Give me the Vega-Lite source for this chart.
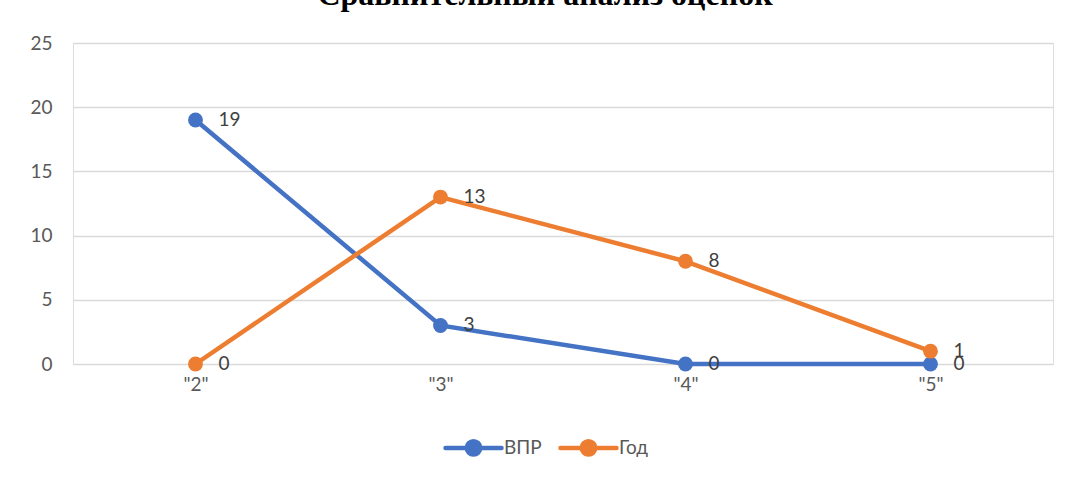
{
  "$schema": "https://vega.github.io/schema/vega-lite/v6.json",
  "width": 980,
  "height": 321,
  "autosize": {"type": "none"},
  "padding": {"left": 73, "top": 43, "right": 17, "bottom": 115},
  "background": "white",
  "title": {
    "text": "Сравнительный анализ оценок",
    "font": "Liberation Serif",
    "fontSize": 32,
    "fontWeight": "bold",
    "color": "#000000",
    "anchor": "middle",
    "dx": -18,
    "dy": 3,
    "baseline": "alphabetic",
    "offset": 0
  },
  "data": {
    "values": [
      {"grade": "\"2\"", "series": "ВПР", "count": 19},
      {"grade": "\"3\"", "series": "ВПР", "count": 3},
      {"grade": "\"4\"", "series": "ВПР", "count": 0},
      {"grade": "\"5\"", "series": "ВПР", "count": 0},
      {"grade": "\"2\"", "series": "Год", "count": 0},
      {"grade": "\"3\"", "series": "Год", "count": 13},
      {"grade": "\"4\"", "series": "Год", "count": 8},
      {"grade": "\"5\"", "series": "Год", "count": 1}
    ]
  },
  "encoding": {
    "x": {
      "field": "grade",
      "type": "ordinal",
      "sort": null,
      "scale": {"type": "point", "padding": 0.5},
      "axis": {
        "title": null,
        "domain": false,
        "ticks": false,
        "grid": false,
        "labelAngle": 0,
        "labelPadding": 11,
        "labelFont": "Lato",
        "labelFontSize": 19,
        "labelColor": "#595959"
      }
    },
    "y": {
      "field": "count",
      "type": "quantitative",
      "scale": {"domain": [0, 25], "nice": false},
      "axis": {
        "title": null,
        "domain": false,
        "ticks": false,
        "values": [0, 5, 10, 15, 20, 25],
        "labelPadding": 21,
        "labelFont": "Lato",
        "labelFontSize": 19,
        "labelColor": "#595959",
        "gridColor": "#d9d9d9",
        "gridWidth": 1.3
      }
    },
    "color": {
      "field": "series",
      "type": "nominal",
      "sort": ["ВПР", "Год"],
      "scale": {"domain": ["ВПР", "Год"], "range": ["#4472C4", "#ED7D31"]},
      "legend": {
        "title": null,
        "orient": "none",
        "direction": "horizontal",
        "legendX": 370,
        "legendY": 374,
        "symbolType": "M-1,0L1,0M-0.24,0A0.24,0.24,0,1,1,0.24,0A0.24,0.24,0,1,1,-0.24,0",
        "symbolSize": 3136,
        "symbolStrokeWidth": 4.5,
        "symbolOpacity": 1,
        "labelFont": "Lato",
        "labelFontSize": 19,
        "labelColor": "#595959",
        "labelOffset": 0,
        "columnPadding": 9,
        "encode": {
          "symbols": {
            "update": {
              "fill": {"scale": "color", "field": "value"},
              "stroke": {"scale": "color", "field": "value"},
              "strokeCap": {"value": "round"}
            }
          }
        }
      }
    }
  },
  "layer": [
    {"mark": {"type": "line", "strokeWidth": 4.5}},
    {"mark": {"type": "point", "filled": true, "size": 220, "opacity": 1}},
    {
      "mark": {
        "type": "text",
        "align": "left",
        "baseline": "middle",
        "dx": 23,
        "font": "Lato",
        "fontSize": 19,
        "color": "#404040"
      },
      "encoding": {
        "text": {"field": "count", "type": "quantitative"},
        "color": {"value": "#404040"}
      }
    }
  ]
}
